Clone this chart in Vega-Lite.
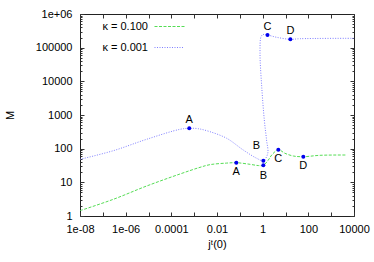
{
  "$schema": "https://vega.github.io/schema/vega-lite/v6.json",
  "width": 274,
  "height": 202,
  "autosize": {"type": "none"},
  "padding": {"left": 80, "top": 14, "right": 20, "bottom": 46},
  "background": "white",
  "config": {
    "font": "Liberation Sans",
    "view": {"stroke": "#222", "strokeWidth": 1},
    "axis": {"labelFontSize": 11, "labelColor": "#000", "titleFontSize": 11, "titleColor": "#000", "titleFontWeight": "normal", "grid": false, "domain": false, "tickColor": "#333", "labelFlush": false, "labelOverlap": false},
    "legend": {"labelFontSize": 11, "labelColor": "#000"}
  },
  "datasets": {
    "curves": [
      {"k": "κ = 0.001", "i": 0, "x": 1e-8, "M": 48.3},
      {"k": "κ = 0.001", "i": 1, "x": 2.88e-7, "M": 87},
      {"k": "κ = 0.001", "i": 2, "x": 8.3e-6, "M": 190},
      {"k": "κ = 0.001", "i": 3, "x": 2.4e-4, "M": 376},
      {"k": "κ = 0.001", "i": 4, "x": 6.1e-4, "M": 403},
      {"k": "κ = 0.001", "i": 5, "x": 1.5e-3, "M": 392},
      {"k": "κ = 0.001", "i": 6, "x": 4.94e-3, "M": 319},
      {"k": "κ = 0.001", "i": 7, "x": 0.0267, "M": 203},
      {"k": "κ = 0.001", "i": 8, "x": 0.142, "M": 91},
      {"k": "κ = 0.001", "i": 9, "x": 0.55, "M": 51.7},
      {"k": "κ = 0.001", "i": 10, "x": 1.07, "M": 43.9},
      {"k": "κ = 0.001", "i": 11, "x": 1.67, "M": 72.8},
      {"k": "κ = 0.001", "i": 12, "x": 1.48, "M": 181},
      {"k": "κ = 0.001", "i": 13, "x": 1.18, "M": 710},
      {"k": "κ = 0.001", "i": 14, "x": 0.91, "M": 6920},
      {"k": "κ = 0.001", "i": 15, "x": 0.766, "M": 67900},
      {"k": "κ = 0.001", "i": 16, "x": 0.848, "M": 211000},
      {"k": "κ = 0.001", "i": 17, "x": 1.04, "M": 246000},
      {"k": "κ = 0.001", "i": 18, "x": 1.63, "M": 237700},
      {"k": "κ = 0.001", "i": 19, "x": 4.13, "M": 203000},
      {"k": "κ = 0.001", "i": 20, "x": 16.3, "M": 177000},
      {"k": "κ = 0.001", "i": 21, "x": 43.3, "M": 184500},
      {"k": "κ = 0.001", "i": 22, "x": 10000, "M": 189700},
      {"k": "κ = 0.100", "i": 0, "x": 1e-8, "M": 1.44},
      {"k": "κ = 0.100", "i": 1, "x": 2.88e-7, "M": 3.13},
      {"k": "κ = 0.100", "i": 2, "x": 8.3e-6, "M": 7.78},
      {"k": "κ = 0.100", "i": 3, "x": 2.4e-4, "M": 17.7},
      {"k": "κ = 0.100", "i": 4, "x": 1.8e-3, "M": 27.9},
      {"k": "κ = 0.100", "i": 5, "x": 4.9e-3, "M": 33.5},
      {"k": "κ = 0.100", "i": 6, "x": 0.0267, "M": 37.3},
      {"k": "κ = 0.100", "i": 7, "x": 0.07, "M": 38.3},
      {"k": "κ = 0.100", "i": 8, "x": 0.279, "M": 34.3},
      {"k": "κ = 0.100", "i": 9, "x": 0.646, "M": 31.5},
      {"k": "κ = 0.100", "i": 10, "x": 1.07, "M": 32.1},
      {"k": "κ = 0.100", "i": 11, "x": 1.77, "M": 46},
      {"k": "κ = 0.100", "i": 12, "x": 2.49, "M": 64.8},
      {"k": "κ = 0.100", "i": 13, "x": 4.85, "M": 93},
      {"k": "κ = 0.100", "i": 14, "x": 9.5, "M": 72.8},
      {"k": "κ = 0.100", "i": 15, "x": 22, "M": 60.5},
      {"k": "κ = 0.100", "i": 16, "x": 60.4, "M": 57.7},
      {"k": "κ = 0.100", "i": 17, "x": 325, "M": 63.5},
      {"k": "κ = 0.100", "i": 18, "x": 4800, "M": 64.8}
    ],
    "pts": [
      {"k": "κ = 0.001", "label": "A", "x": 6.1e-4, "M": 403},
      {"k": "κ = 0.001", "label": "B", "x": 1.07, "M": 43.9},
      {"k": "κ = 0.001", "label": "C", "x": 1.63, "M": 237700},
      {"k": "κ = 0.001", "label": "D", "x": 16.3, "M": 177000},
      {"k": "κ = 0.100", "label": "A", "x": 0.07, "M": 38.3},
      {"k": "κ = 0.100", "label": "B", "x": 1.07, "M": 32.1},
      {"k": "κ = 0.100", "label": "C", "x": 4.85, "M": 93},
      {"k": "κ = 0.100", "label": "D", "x": 60.4, "M": 57.7}
    ]
  },
  "resolve": {"axis": {"x": "independent", "y": "independent"}},
  "layer": [
    {
      "data": {"name": "curves"},
      "mark": {"type": "line", "strokeWidth": 1, "interpolate": "catmull-rom", "clip": true},
      "encoding": {
        "x": {"field": "x", "type": "quantitative",
              "scale": {"type": "log", "domain": [1e-8, 10000], "nice": false},
              "axis": {"orient": "bottom", "ticks": false, "labelPadding": 7, "title": "jᵗ(0)", "titlePadding": 4,
                       "values": [1e-8, 1e-6, 1e-4, 0.01, 1, 100, 10000],
                       "labelExpr": "datum.value < 1e-7 ? '1e-08' : datum.value < 1e-5 ? '1e-06' : datum.value < 1e-3 ? '0.0001' : datum.value < 0.1 ? '0.01' : datum.value < 10 ? '1' : datum.value < 1000 ? '100' : '10000'"}},
        "y": {"field": "M", "type": "quantitative",
              "scale": {"type": "log", "domain": [1, 1000000], "nice": false},
              "axis": {"orient": "left", "ticks": false, "labelPadding": 8, "title": "M", "titlePadding": 20,
                       "values": [1, 10, 100, 1000, 10000, 100000, 1000000],
                       "labelExpr": "datum.value > 500000 ? '1e+06' : format(datum.value, 'd')"}},
        "color": {"field": "k", "type": "nominal",
                  "scale": {"domain": ["κ = 0.100", "κ = 0.001"], "range": ["#55dd55", "#7f7fff"]},
                  "legend": {"title": null, "orient": "none", "legendX": 74, "legendY": -3, "padding": 0,
                             "symbolType": "stroke", "symbolSize": 900, "symbolStrokeWidth": 1,
                             "rowPadding": -13.3, "labelAlign": "right", "labelOffset": -37}},
        "strokeDash": {"field": "k", "type": "nominal",
                       "scale": {"domain": ["κ = 0.100", "κ = 0.001"], "range": [[3, 1.5], [1, 1.5]]},
                       "legend": {"title": null, "orient": "none", "legendX": 74, "legendY": -3, "padding": 0,
                             "symbolType": "stroke", "symbolSize": 900, "symbolStrokeWidth": 1,
                             "rowPadding": -13.3, "labelAlign": "right", "labelOffset": -37}},
        "order": {"field": "i", "type": "quantitative"}
      }
    },
    {
      "data": {"name": "pts"},
      "mark": {"type": "point", "filled": true, "size": 16, "color": "#0000ee", "opacity": 1},
      "encoding": {
        "x": {"field": "x", "type": "quantitative",
              "axis": {"orient": "top", "labels": false, "tickSize": -4, "title": null,
                       "values": [1e-8, 1e-7, 1e-6, 1e-5, 1e-4, 1e-3, 0.01, 0.1, 1, 10, 100, 1000, 10000]}},
        "y": {"field": "M", "type": "quantitative",
              "axis": {"orient": "right", "labels": false, "tickSize": -4, "title": null,
                       "values": [1, 10, 100, 1000, 10000, 100000, 1000000]}}
      }
    },
    {
      "data": {"name": "pts"},
      "transform": [{"filter": "datum.k == 'κ = 0.001' && datum.label != 'B'"}],
      "mark": {"type": "text", "fontSize": 11, "dy": -8, "baseline": "middle", "color": "#000"},
      "encoding": {
        "x": {"field": "x", "type": "quantitative",
              "axis": {"orient": "bottom", "labels": false, "tickSize": -4, "title": null,
                       "values": [1e-8, 1e-7, 1e-6, 1e-5, 1e-4, 1e-3, 0.01, 0.1, 1, 10, 100, 1000, 10000]}},
        "y": {"field": "M", "type": "quantitative",
              "axis": {"orient": "left", "labels": false, "tickSize": -4, "title": null,
                       "values": [1, 10, 100, 1000, 10000, 100000, 1000000]}},
        "text": {"field": "label"}
      }
    },
    {
      "data": {"name": "pts"},
      "transform": [{"filter": "datum.k == 'κ = 0.001' && datum.label == 'B'"}],
      "mark": {"type": "text", "fontSize": 11, "dx": -7, "dy": -15, "baseline": "middle", "color": "#000"},
      "encoding": {
        "x": {"field": "x", "type": "quantitative", "axis": null},
        "y": {"field": "M", "type": "quantitative",
              "axis": {"orient": "left", "labels": false, "tickSize": -2, "title": null,
                       "values": [2,3,4,5,6,7,8,9,20,30,40,50,60,70,80,90,200,300,400,500,600,700,800,900,2000,3000,4000,5000,6000,7000,8000,9000,20000,30000,40000,50000,60000,70000,80000,90000,200000,300000,400000,500000,600000,700000,800000,900000]}},
        "text": {"field": "label"}
      }
    },
    {
      "data": {"name": "pts"},
      "transform": [{"filter": "datum.k == 'κ = 0.100' && datum.label != 'B'"}],
      "mark": {"type": "text", "fontSize": 11, "dy": 9, "baseline": "middle", "color": "#000"},
      "encoding": {
        "x": {"field": "x", "type": "quantitative", "axis": null},
        "y": {"field": "M", "type": "quantitative",
              "axis": {"orient": "right", "labels": false, "tickSize": -2, "title": null,
                       "values": [2,3,4,5,6,7,8,9,20,30,40,50,60,70,80,90,200,300,400,500,600,700,800,900,2000,3000,4000,5000,6000,7000,8000,9000,20000,30000,40000,50000,60000,70000,80000,90000,200000,300000,400000,500000,600000,700000,800000,900000]}},
        "text": {"field": "label"}
      }
    },
    {
      "data": {"name": "pts"},
      "transform": [{"filter": "datum.k == 'κ = 0.100' && datum.label == 'B'"}],
      "mark": {"type": "text", "fontSize": 11, "dy": 11, "baseline": "middle", "color": "#000"},
      "encoding": {
        "x": {"field": "x", "type": "quantitative", "axis": null},
        "y": {"field": "M", "type": "quantitative", "axis": null},
        "text": {"field": "label"}
      }
    }
  ]
}
